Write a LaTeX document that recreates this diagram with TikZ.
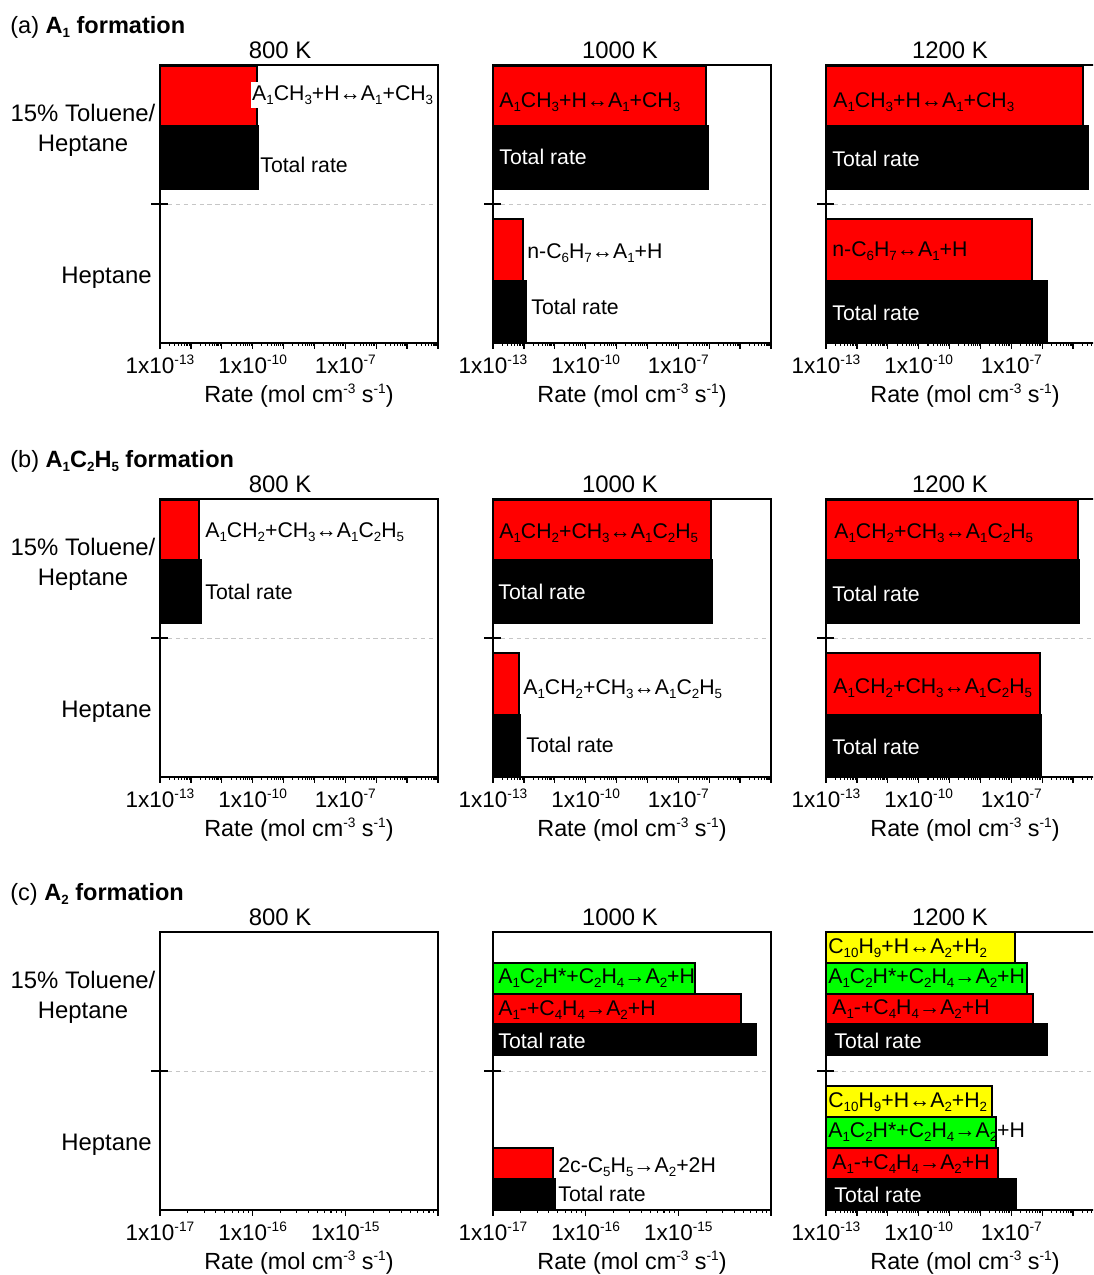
\documentclass[tikz,border=0pt]{standalone}
\usepackage{fontspec}
\setmainfont{Liberation Sans}
\usetikzlibrary{positioning}

\definecolor{barred}{HTML}{FF0000}
\definecolor{bargreen}{HTML}{00FF00}
\definecolor{baryellow}{HTML}{FFFF00}

\newcommand{\sbs}[1]{\raisebox{-2.6pt}{\fontsize{7.6}{8}\selectfont #1}}
\newcommand{\sps}[1]{\raisebox{4.6pt}{\fontsize{7.8}{8}\selectfont #1}}

% reaction labels
\newcommand{\rxnToluene}{A\sbs{1}CH\sbs{3}+H↔A\sbs{1}+CH\sbs{3}}
\newcommand{\rxnHexa}{n-C\sbs{6}H\sbs{7}↔A\sbs{1}+H}
\newcommand{\rxnBenzyl}{A\sbs{1}CH\sbs{2}+CH\sbs{3}↔A\sbs{1}C\sbs{2}H\sbs{5}}
\newcommand{\rxnHACA}{A\sbs{1}C\sbs{2}H*+C\sbs{2}H\sbs{4}→A\sbs{2}+H}
\newcommand{\rxnVinyl}{A\sbs{1}-+C\sbs{4}H\sbs{4}→A\sbs{2}+H}
\newcommand{\rxnNaph}{C\sbs{10}H\sbs{9}+H↔A\sbs{2}+H\sbs{2}}
\newcommand{\rxnCyclo}{2c-C\sbs{5}H\sbs{5}→A\sbs{2}+2H}

% bar: style, x0, ytop, ybottom, xright
\newcommand{\ratebar}[5]{\draw[#1] (#2,#3) rectangle (#5,#4);}

% log axis ticks: x0, ybottom, decades, px per decade
\newcommand{\logticks}[4]{%
    \foreach \k in {0,...,#3}{\draw[majortick] ({#1+\k*#4},#2) -- ++(0,6);}
    \foreach \k in {1,...,#3}{\foreach \m in {2,...,9}{%
        \draw[minortick] ({#1+(\k-1+log10(\m))*#4},#2) -- ++(0,3);}}%
}

\begin{document}
\begin{tikzpicture}[
    x=0.02cm, y=-0.02cm,
    every node/.style={font=\fontsize{12.1}{14}\selectfont, inner sep=0pt},
    % plot frame
    frame/.style={draw=black, line width=1.1pt},
    majortick/.style={black, line width=0.8pt},
    minortick/.style={black, line width=0.6pt},
    sepline/.style={gray!45, line width=0.5pt, dash pattern=on 2.5pt off 2pt},
    % bars
    redbar/.style={fill=barred, draw=black, line width=0.8pt},
    greenbar/.style={fill=bargreen, draw=black, line width=0.8pt},
    yellowbar/.style={fill=baryellow, draw=black, line width=0.8pt},
    totalbar/.style={fill=black, draw=black, line width=0.8pt},
    % texts
    rxn/.style={anchor=base west},
    inbar/.style={anchor=base west, text=white},
    title/.style={anchor=base west, font=\fontsize{13.4}{15}\selectfont},
    temp/.style={anchor=base, font=\fontsize{13.6}{15}\selectfont},
    ticklabel/.style={anchor=base, font=\fontsize{12.8}{14}\selectfont},
    axtitle/.style={anchor=base, font=\fontsize{13.3}{15}\selectfont},
    cat/.style={anchor=base, font=\fontsize{13.6}{15}\selectfont}
]
\clip (0,0) rectangle (1093,1275);

% === Frames, axes and category labels of the three rows ===
\foreach \T/\row in {65/a, 499/b, 932/c}{
    \foreach \X in {160, 493, 826}{
        \draw[sepline] (\X,\T+139) -- (\X+278,\T+139);
        \draw[majortick, line width=1.1pt] (\X-9,\T+139) -- (\X+8,\T+139);
        \node[axtitle] (rate-\row-\X) at (\X+139,\T+337) {Rate (mol cm\sps{-3} s\sps{-1})};
    }
    \node[cat] (tol-\row) at (83,\T+56) {15\% Toluene/};
    \node[cat] (tolhep-\row) at (83,\T+86) {Heptane};
    \node[cat, anchor=base east] (hep-\row) at (152,\T+218) {Heptane};
    \node[temp] (t800-\row) at (280,\T-7) {800 K};
    \node[temp] (t1000-\row) at (620,\T-7) {1000 K};
    \node[temp] (t1200-\row) at (950,\T-7) {1200 K};
}

% === Titles ===
\node[title] (ttl-a) at (10,33) {(a) \textbf{A\sbs{1} formation}};
\node[title] (ttl-b) at (10,467) {(b) \textbf{A\sbs{1}C\sbs{2}H\sbs{5} formation}};
\node[title] (ttl-c) at (10,900) {(c) \textbf{A\sbs{2} formation}};

% === (a) A1 formation ===
\ratebar{redbar}{160}{66}{126}{257}
\ratebar{totalbar}{160}{126}{189}{258}
\ratebar{redbar}{493}{66}{126}{706}
\ratebar{totalbar}{493}{126}{189}{708}
\ratebar{redbar}{493}{219}{281}{523}
\ratebar{totalbar}{493}{281}{343}{526}
\ratebar{redbar}{826}{66}{126}{1083}
\ratebar{totalbar}{826}{126}{189}{1088}
\ratebar{redbar}{826}{219}{281}{1032}
\ratebar{totalbar}{826}{281}{343}{1047}

% === (b) A1C2H5 formation ===
\ratebar{redbar}{160}{500}{560}{199}
\ratebar{totalbar}{160}{560}{623}{201}
\ratebar{redbar}{493}{500}{560}{711}
\ratebar{totalbar}{493}{560}{623}{712}
\ratebar{redbar}{493}{653}{715}{519}
\ratebar{totalbar}{493}{715}{777}{520}
\ratebar{redbar}{826}{500}{560}{1078}
\ratebar{totalbar}{826}{560}{623}{1079}
\ratebar{redbar}{826}{653}{715}{1040}
\ratebar{totalbar}{826}{715}{777}{1041}

% === (c) A2 formation ===
\ratebar{greenbar}{493}{963}{994}{695}
\ratebar{redbar}{493}{994}{1024}{741}
\ratebar{totalbar}{493}{1024}{1055}{756}
\ratebar{redbar}{493}{1148}{1179}{553}
\ratebar{totalbar}{493}{1179}{1210}{555}
\ratebar{yellowbar}{826}{932}{963}{1015}
\ratebar{greenbar}{826}{963}{994}{1027}
\ratebar{redbar}{826}{994}{1024}{1033}
\ratebar{totalbar}{826}{1024}{1055}{1047}
\ratebar{yellowbar}{826}{1086}{1117}{992}
\ratebar{greenbar}{826}{1117}{1148}{996}
\ratebar{redbar}{826}{1148}{1179}{998}
\ratebar{totalbar}{826}{1179}{1210}{1016}

% === Frames and log ticks ===
\foreach \T in {65, 499, 932}{
    \foreach \X in {160, 493, 826}{
        \draw[frame] (\X,\T) rectangle ++(278,278);
    }
}
\foreach \T in {343, 777}{
    \foreach \X in {160, 493, 826}{\logticks{\X}{\T}{9}{30.889}}
}
\logticks{160}{1210}{3}{92.667}
\logticks{493}{1210}{3}{92.667}
\logticks{826}{1210}{9}{30.889}

% tick labels
\foreach \B/\row in {373/a, 807/b}{
    \foreach \X in {160, 493, 826}{
        \node[ticklabel] (m13-\row-\X) at (\X,\B) {1x10\sps{-13}};
        \node[ticklabel] (m10-\row-\X) at (\X+92.7,\B) {1x10\sps{-10}};
        \node[ticklabel] (m7-\row-\X) at (\X+185.3,\B) {1x10\sps{-7}};
    }
}
\foreach \X in {160, 493}{
    \node[ticklabel] (m17-c-\X) at (\X,1240) {1x10\sps{-17}};
    \node[ticklabel] (m16-c-\X) at (\X+92.7,1240) {1x10\sps{-16}};
    \node[ticklabel] (m15-c-\X) at (\X+185.3,1240) {1x10\sps{-15}};
}
\node[ticklabel] (m13-c) at (826,1240) {1x10\sps{-13}};
\node[ticklabel] (m10-c) at (918.7,1240) {1x10\sps{-10}};
\node[ticklabel] (m7-c) at (1011.3,1240) {1x10\sps{-7}};

% === Bar labels (a) ===
\node[rxn, fill=white, inner xsep=0.5pt, inner ysep=2pt] (a1-tol-r) at (251,100) {\rxnToluene};
\node[rxn] (a1-tol-t) at (260,172) {Total rate};
\node[rxn] (a2-tol-r) at (499,107) {\rxnToluene};
\node[inbar] (a2-tol-t) at (499,164) {Total rate};
\node[rxn] (a2-hep-r) at (527,258) {\rxnHexa};
\node[rxn] (a2-hep-t) at (531,314) {Total rate};
\node[rxn] (a3-tol-r) at (833,107) {\rxnToluene};
\node[inbar] (a3-tol-t) at (832,166) {Total rate};
\node[rxn] (a3-hep-r) at (832,256) {\rxnHexa};
\node[inbar] (a3-hep-t) at (832,320) {Total rate};

% === Bar labels (b) ===
\node[rxn] (b1-tol-r) at (205,537) {\rxnBenzyl};
\node[rxn] (b1-tol-t) at (205,599) {Total rate};
\node[rxn] (b2-tol-r) at (499,538) {\rxnBenzyl};
\node[inbar] (b2-tol-t) at (498,599) {Total rate};
\node[rxn] (b2-hep-r) at (523,694) {\rxnBenzyl};
\node[rxn] (b2-hep-t) at (526,752) {Total rate};
\node[rxn] (b3-tol-r) at (834,538) {\rxnBenzyl};
\node[inbar] (b3-tol-t) at (832,601) {Total rate};
\node[rxn] (b3-hep-r) at (833,693) {\rxnBenzyl};
\node[inbar] (b3-hep-t) at (832,754) {Total rate};

% === Bar labels (c) ===
\node[rxn] (c2-tol-g) at (498,983) {\rxnHACA};
\node[rxn] (c2-tol-r) at (498,1015) {\rxnVinyl};
\node[inbar] (c2-tol-t) at (498,1048) {Total rate};
\node[rxn] (c2-hep-r) at (558,1172) {\rxnCyclo};
\node[rxn] (c2-hep-t) at (558,1201) {Total rate};
\node[rxn] (c3-tol-y) at (828,953) {\rxnNaph};
\node[rxn] (c3-tol-g) at (828,983) {\rxnHACA};
\node[rxn] (c3-tol-r) at (832,1014) {\rxnVinyl};
\node[inbar] (c3-tol-t) at (834,1048) {Total rate};
\node[rxn] (c3-hep-y) at (828,1107) {\rxnNaph};
\node[rxn] (c3-hep-g) at (828,1137) {\rxnHACA};
\node[rxn] (c3-hep-r) at (832,1169) {\rxnVinyl};
\node[inbar] (c3-hep-t) at (834,1202) {Total rate};

\end{tikzpicture}
\end{document}
